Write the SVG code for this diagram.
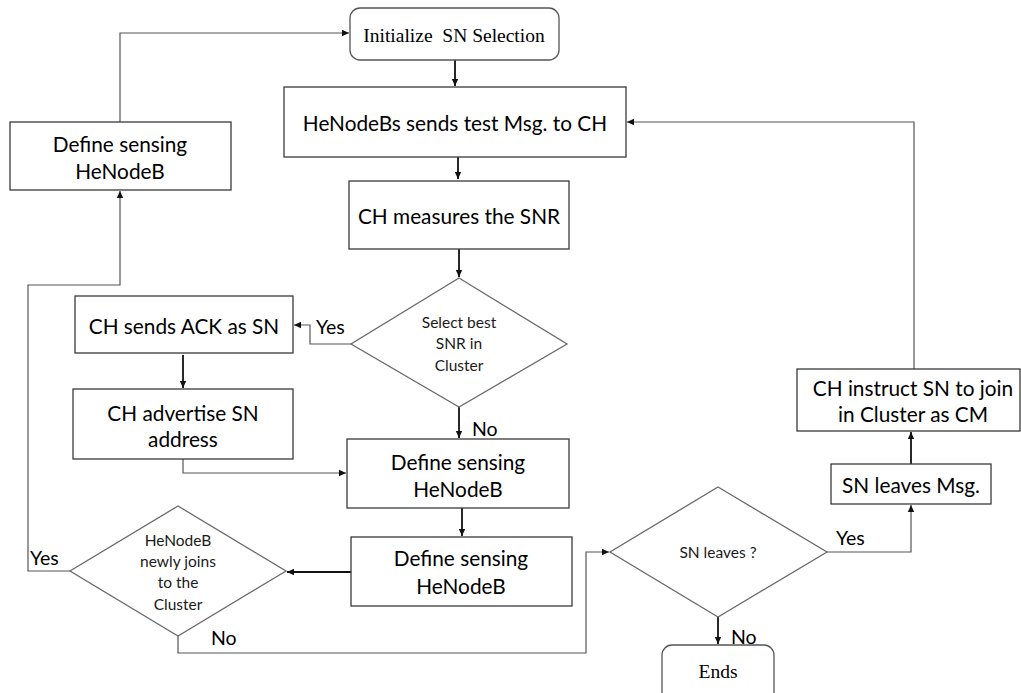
<svg xmlns="http://www.w3.org/2000/svg" width="1021" height="693" viewBox="0 0 1021 693">
  <style>
    .box { fill: #ffffff; stroke: #3a3a3a; stroke-width: 1.3; }
    .dia { fill: #ffffff; stroke: #6a6a6a; stroke-width: 1.3; }
    .term { fill: #ffffff; stroke: #555555; stroke-width: 1.3; }
    .t { font-family: Lato, "Open Sans", sans-serif; font-size: 20.8px; fill: #000000; text-anchor: middle; dominant-baseline: central; }
    .ts { font-family: Lato, "Open Sans", sans-serif; font-size: 15.5px; fill: #1a1a1a; text-anchor: middle; dominant-baseline: central; }
    .tr { font-family: "Liberation Serif", serif; font-size: 19.5px; fill: #000000; text-anchor: middle; dominant-baseline: central; }
    .lbl { font-family: Lato, "Open Sans", sans-serif; font-size: 19.5px; fill: #000000; text-anchor: start; dominant-baseline: central; }
    .c { fill: none; stroke: #555555; stroke-width: 1.2; }
    .cb { fill: none; stroke: #111111; stroke-width: 1.8; }
  </style>
  <defs>
    <marker id="ah" markerWidth="8" markerHeight="8" refX="7" refY="4" orient="auto" markerUnits="userSpaceOnUse">
      <path d="M0,0.8 L7,4 L0,7.2 Z" fill="#111111"/>
    </marker>
  </defs>

  <rect width="1021" height="693" fill="#ffffff"/>

  <!-- connectors -->
  <g id="connectors">
    <path class="cb" d="M455,60 V86" marker-end="url(#ah)"/>
    <path class="cb" d="M458,157 V179" marker-end="url(#ah)"/>
    <path class="cb" d="M459,249 V277" marker-end="url(#ah)"/>
    <path class="c" d="M351,344 H310 V325 H294" marker-end="url(#ah)"/>
    <path class="cb" d="M183,355 V388" marker-end="url(#ah)"/>
    <path class="c" d="M183,459 V473 H346" marker-end="url(#ah)"/>
    <path class="cb" d="M459,407 V438" marker-end="url(#ah)"/>
    <path class="cb" d="M462,508 V536" marker-end="url(#ah)"/>
    <path class="cb" d="M351,572 H287" marker-end="url(#ah)"/>
    <path class="c" d="M70,571 H28 V285 H120 V191" marker-end="url(#ah)"/>
    <path class="c" d="M120,122 V33 H349" marker-end="url(#ah)"/>
    <path class="c" d="M178,636 V653 H586 V552 H609" marker-end="url(#ah)"/>
    <path class="c" d="M827,552 H911 V505" marker-end="url(#ah)"/>
    <path class="cb" d="M718,617 V644" marker-end="url(#ah)"/>
    <path class="cb" d="M911,464 V432" marker-end="url(#ah)"/>
    <path class="c" d="M914,369 V122 H627" marker-end="url(#ah)"/>

    <text class="lbl" x="316" y="326">Yes</text>
    <text class="lbl" x="472" y="428">No</text>
    <text class="lbl" x="30" y="557">Yes</text>
    <text class="lbl" x="211" y="637">No</text>
    <text class="lbl" x="836" y="537">Yes</text>
    <text class="lbl" x="731" y="636">No</text>
  </g>

  <g id="init">
    <rect class="term" x="350" y="8" width="209" height="52" rx="10"/>
    <text class="tr" x="454" y="35" xml:space="preserve">Initialize  SN Selection</text>
  </g>

  <g id="send-test">
    <rect class="box" x="284" y="87" width="342" height="70"/>
    <text class="t" x="455" y="122">HeNodeBs sends test Msg. to CH</text>
  </g>

  <g id="measure">
    <rect class="box" x="349" y="181" width="220" height="68"/>
    <text class="t" x="459" y="215">CH measures the SNR</text>
  </g>

  <g id="select-best">
    <polygon class="dia" points="459,278 567,344 459,407 351,344"/>
    <text class="ts" x="459" y="322">Select best</text>
    <text class="ts" x="459" y="343">SNR in</text>
    <text class="ts" x="459" y="365">Cluster</text>
  </g>

  <g id="send-ack">
    <rect class="box" x="75" y="296" width="218" height="57"/>
    <text class="t" x="184" y="325">CH sends ACK as SN</text>
  </g>

  <g id="advertise">
    <rect class="box" x="73" y="389" width="220" height="70"/>
    <text class="t" x="183" y="412">CH advertise SN</text>
    <text class="t" x="183" y="438">address</text>
  </g>

  <g id="define-top">
    <rect class="box" x="10" y="122" width="221" height="68"/>
    <text class="t" x="120" y="143">Define sensing</text>
    <text class="t" x="120" y="170">HeNodeB</text>
  </g>

  <g id="define-mid">
    <rect class="box" x="347" y="439" width="222" height="69"/>
    <text class="t" x="458" y="461">Define sensing</text>
    <text class="t" x="458" y="488">HeNodeB</text>
  </g>

  <g id="define-low">
    <rect class="box" x="351" y="537" width="221" height="69"/>
    <text class="t" x="461" y="557">Define sensing</text>
    <text class="t" x="461" y="585">HeNodeB</text>
  </g>

  <g id="newly-joins">
    <polygon class="dia" points="178,506 286,571 178,636 70,571"/>
    <text class="ts" x="178" y="540">HeNodeB</text>
    <text class="ts" x="178" y="561">newly joins</text>
    <text class="ts" x="178" y="582">to the</text>
    <text class="ts" x="178" y="604">Cluster</text>
  </g>

  <g id="sn-leaves">
    <polygon class="dia" points="718,487 827,552 718,617 610,552"/>
    <text class="ts" x="718" y="552">SN leaves ?</text>
  </g>

  <g id="ends">
    <rect class="term" x="662" y="645" width="112" height="60" rx="10"/>
    <text class="tr" x="718" y="671">Ends</text>
  </g>

  <g id="leaves-msg">
    <rect class="box" x="831" y="464" width="160" height="40"/>
    <text class="t" x="911" y="484">SN leaves Msg.</text>
  </g>

  <g id="instruct">
    <rect class="box" x="797" y="369" width="223" height="62"/>
    <text class="t" x="913" y="387">CH instruct SN to join</text>
    <text class="t" x="913" y="413">in Cluster as CM</text>
  </g>
</svg>
